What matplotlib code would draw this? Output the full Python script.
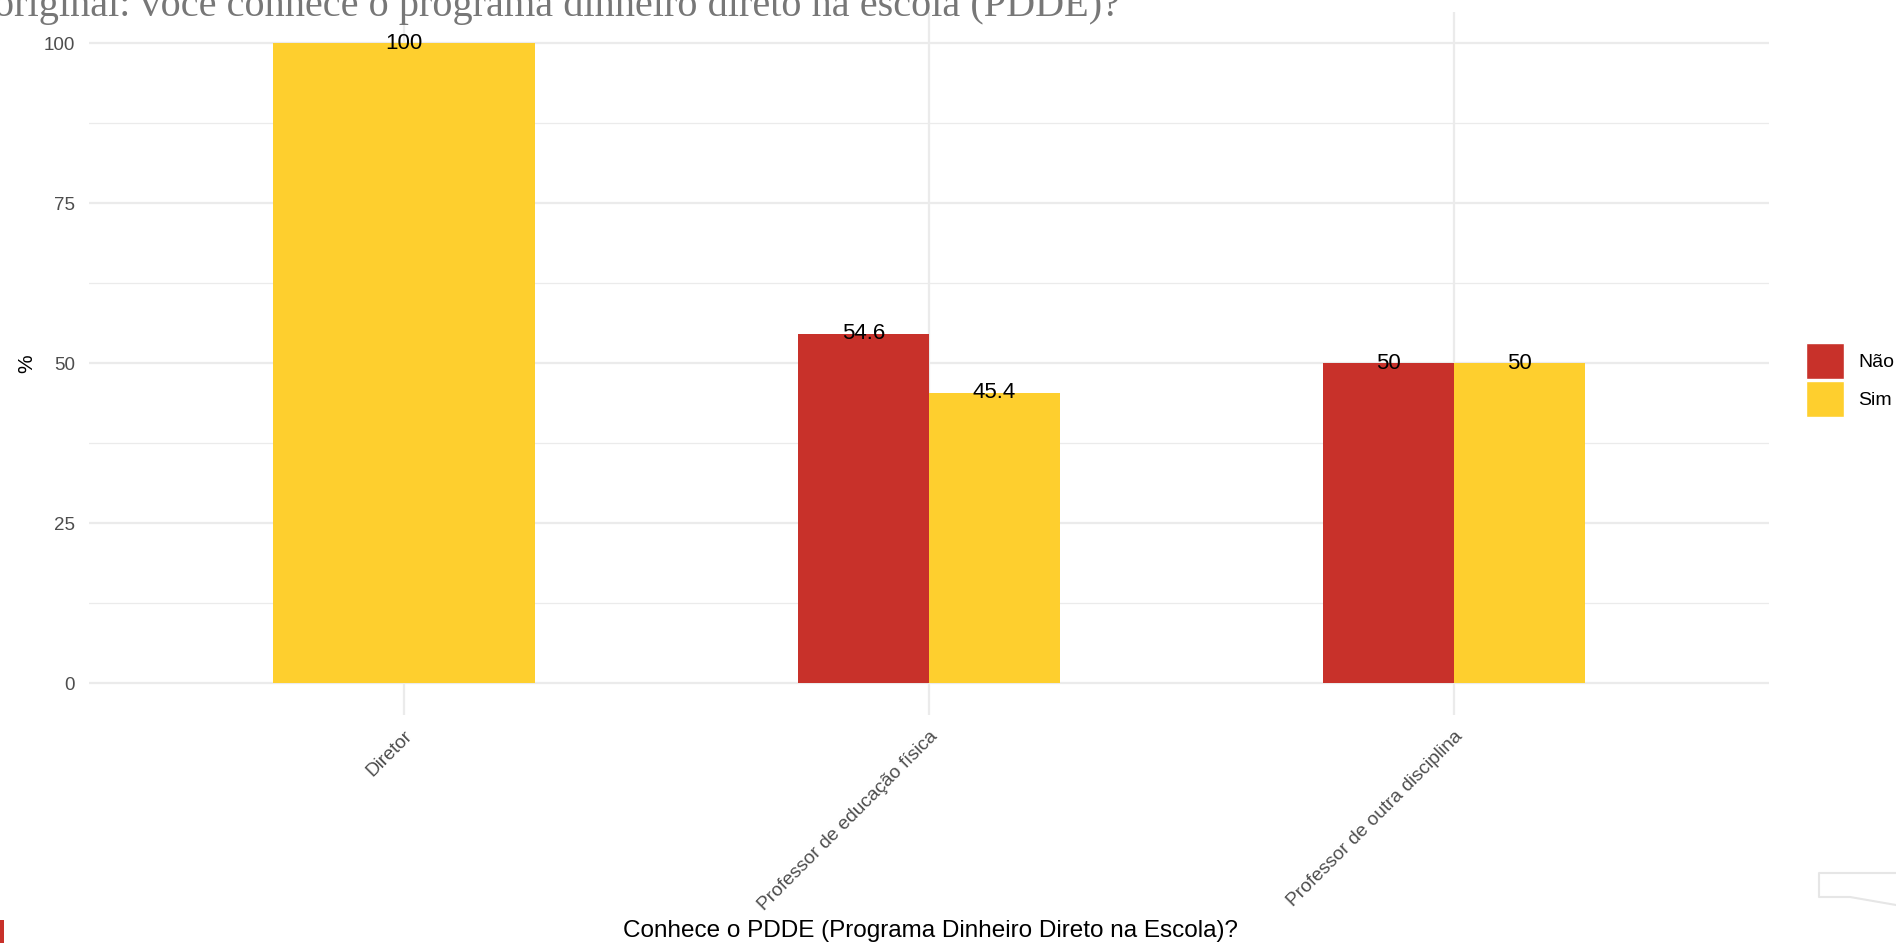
import numpy as np
import matplotlib
matplotlib.use("Agg")
import matplotlib.pyplot as plt
from matplotlib.lines import Line2D
from matplotlib.patches import Rectangle
from matplotlib.transforms import blended_transform_factory

plt.rcParams['font.family'] = ['Liberation Sans', 'DejaVu Sans']

# data
categories = ["Diretor", "Professor de educação física", "Professor de outra disciplina"]
nao_values = [np.nan, 54.6, 50]
sim_values = [100, 45.4, 50]
nao_labels = ["", "54.6", "50"]
sim_labels = ["100", "45.4", "50"]
y_ticks = [0, 25, 50, 75, 100]

RED = '#C8312A'
YELLOW = '#FECF2E'
GRID = '#EBEBEB'

fig = plt.figure(figsize=(18.96, 9.43), dpi=100, facecolor='white')
ax = fig.add_axes([89 / 1896, 228 / 943, (1769 - 89) / 1896, (943 - 228 - 11.5) / 943])

x = np.arange(1, len(categories) + 1)
total_w = 0.5
half = total_w / 2

# Diretor only has "Sim": full-width bar (ggplot dodge)
for i in range(len(categories)):
    if np.isnan(nao_values[i]):
        ax.bar(x[i], sim_values[i], width=total_w, color=YELLOW, zorder=2)
        ax.text(x[i], sim_values[i], sim_labels[i], ha='center', va='center',
                fontsize=16, color='black', zorder=3)
    else:
        ax.bar(x[i] - half / 2, nao_values[i], width=half, color=RED, zorder=2)
        ax.bar(x[i] + half / 2, sim_values[i], width=half, color=YELLOW, zorder=2)
        ax.text(x[i] - half / 2, nao_values[i], nao_labels[i], ha='center', va='center',
                fontsize=16, color='black', zorder=3)
        ax.text(x[i] + half / 2, sim_values[i], sim_labels[i], ha='center', va='center',
                fontsize=16, color='black', zorder=3)

ax.set_xlim(0.4, 3.6)
ax.set_ylim(-5, 105)
ax.set_yticks(y_ticks)
ax.set_yticks([12.5, 37.5, 62.5, 87.5], minor=True)
ax.set_xticks(x)
ax.set_xticklabels(categories, rotation=45, ha='right', va='top',
                   rotation_mode='anchor', fontsize=13.8, color='#4D4D4D')
ax.tick_params(axis='y', which='both', length=0, labelsize=13.5,
               labelcolor='#4D4D4D', pad=10)
ax.tick_params(axis='x', length=0, pad=9)
ax.grid(which='major', color=GRID, linewidth=1.6, zorder=0)
ax.grid(which='minor', axis='y', color=GRID, linewidth=0.9, zorder=0)
ax.set_axisbelow(True)
for s in ax.spines.values():
    s.set_visible(False)

# y axis title
ax.text(-0.037, 50, '%', rotation=90, ha='center', va='center', fontsize=15,
        color='black', transform=blended_transform_factory(ax.transAxes, ax.transData))

fig.text(930 / 1896, 12 / 943, 'Conhece o PDDE (Programa Dinheiro Direto na Escola)?',
         ha='center', va='center', fontsize=17.5, color='black')

# clipped title at the top
fig.text(-6 / 1896, (943 - 16) / 943,
         'original: você conhece o programa dinheiro direto na escola (PDDE)?',
         ha='left', va='baseline', fontsize=29, color='#777777',
         family=['Liberation Serif', 'DejaVu Serif'])

# legend
handles = [Rectangle((0, 0), 1, 1, facecolor=RED, edgecolor='white', linewidth=1),
           Rectangle((0, 0), 1, 1, facecolor=YELLOW, edgecolor='white', linewidth=1)]
fig.legend(handles, ['Não', 'Sim'], loc='center left',
           bbox_to_anchor=(1806 / 1896, (943 - 380) / 943),
           frameon=False, fontsize=14, handlelength=1.95, handleheight=2.5,
           handletextpad=0.75, labelspacing=0.1, borderpad=0, borderaxespad=0)

# screenshot artifacts at the edges
fig.add_artist(Rectangle((0, 0), 4 / 1896, 23 / 943, transform=fig.transFigure,
                         facecolor=RED, edgecolor='none'))
fig.add_artist(Line2D([1896 / 1896, 1819 / 1896, 1819 / 1896, 1850 / 1896, 1896 / 1896],
                      [(943 - 873) / 943, (943 - 873) / 943, (943 - 897) / 943,
                       (943 - 897) / 943, (943 - 905) / 943],
                      transform=fig.transFigure, color='#E6E6E6', linewidth=1.5))

fig.savefig('out.png', dpi=100)
